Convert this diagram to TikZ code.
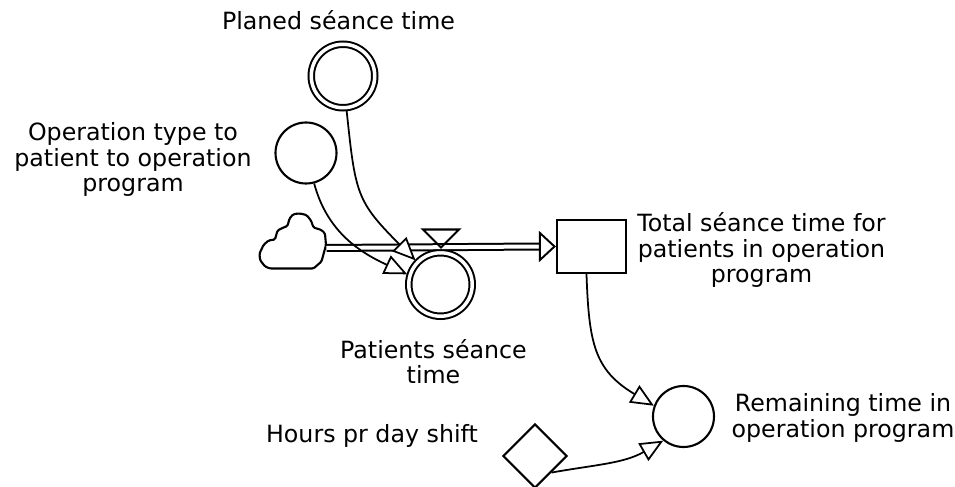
\documentclass[tikz,border=0pt]{standalone}
\usepackage{fontspec}
\setmainfont{DejaVu Sans}
\usetikzlibrary{arrows.meta,shapes.geometric}

\begin{document}
\begin{tikzpicture}[scale=1,
    font=\fontsize{13.5pt}{14.5pt}\selectfont,
    lbl/.style={align=center, inner sep=0pt},
    stock/.style={draw, line width=1.2pt, minimum width=1.38cm, minimum height=1.06cm, inner sep=0pt},
    auxvar/.style={circle, draw, line width=1.2pt, minimum size=1.22cm, inner sep=0pt},
    ratevar/.style={circle, draw, double, line width=0.04cm, double distance=0.07cm,
                    minimum size=1.27cm, inner sep=0pt, outer sep=0.06cm},
    constant/.style={diamond, draw, line width=1.2pt, minimum size=1.28cm, inner sep=0pt},
    link/.style={line width=1pt, -{Triangle[length=0.46cm, width=0.4cm, fill=white]}},
    pipe/.style={double, line width=0.04cm, double distance=0.08cm},
    flowtip/.style={line width=1.1pt, -{Triangle[length=0.34cm, width=0.62cm, fill=white]}},
]
    \useasboundingbox (0,0) rectangle (19.1,9.72);

    % variables and the stock
    \node[ratevar] (planed) at (6.86,8.20) {};
    \node[auxvar] (optype) at (6.12,6.66) {};
    \node[ratevar] (patients) at (8.81,4.03) {};
    \node[stock] (total) at (11.83,4.79) {};
    \node[auxvar] (remaining) at (13.67,1.39) {};
    \node[constant] (hours) at (10.70,0.60) {};

    % labels
    \node[lbl] (planedlbl) at (6.77,9.32) {Planed séance time};
    \node[lbl] (optypelbl) at (2.66,6.53) {Operation type to\\patient to operation\\program};
    \node[lbl] (patientslbl) at (8.67,2.49) {Patients séance\\time};
    \node[lbl] (totallbl) at (15.23,4.72) {Total séance time for\\patients in operation\\program};
    \node[lbl] (remaininglbl) at (16.86,1.36) {Remaining time in\\operation program};
    \node[lbl] (hourslbl) at (7.44,1.00) {Hours pr day shift};

    % source cloud
    \draw[line width=1.2pt, rounded corners=0.8pt]
        (5.40,4.35) -- (6.27,4.35) -- (6.43,4.49) -- (6.52,4.82) -- (6.50,5.05)
        -- (6.43,5.12) -- (6.27,5.17) -- (6.22,5.31) -- (6.13,5.42) -- (6.00,5.45)
        -- (5.87,5.44) -- (5.79,5.35) -- (5.75,5.20) -- (5.67,5.17) -- (5.55,5.11)
        -- (5.50,4.93) -- (5.37,4.91) -- (5.27,4.82) -- (5.19,4.65) -- (5.20,4.52)
        -- (5.30,4.39) -- cycle;
    \coordinate (cloud) at (6.53,4.76);

    % flow pipe with its valve
    \coordinate (pipeend) at ([xshift=-0.34cm]total.west);
    \draw[pipe] (cloud) -- (pipeend);
    \draw[flowtip] (pipeend) -- (total.west);
    \coordinate (valve) at (8.82,4.77);
    \draw[line width=1.2pt, line join=miter] (valve) -- ++(-0.36,0.36) -- ++(0.72,0) -- cycle;

    % information links
    \draw[link] (planed.-84) to[out=-84,in=135,looseness=1.3] (patients.136);
    \draw[link] (optype.-75) to[out=-75,in=155] (patients.163);
    \draw[link] ([xshift=-0.1cm]total.south) to[out=-88,in=149,looseness=1.2] (remaining.160);
    \draw[link] (hours.south east) to[out=10,in=210] (remaining.230);
\end{tikzpicture}
\end{document}
